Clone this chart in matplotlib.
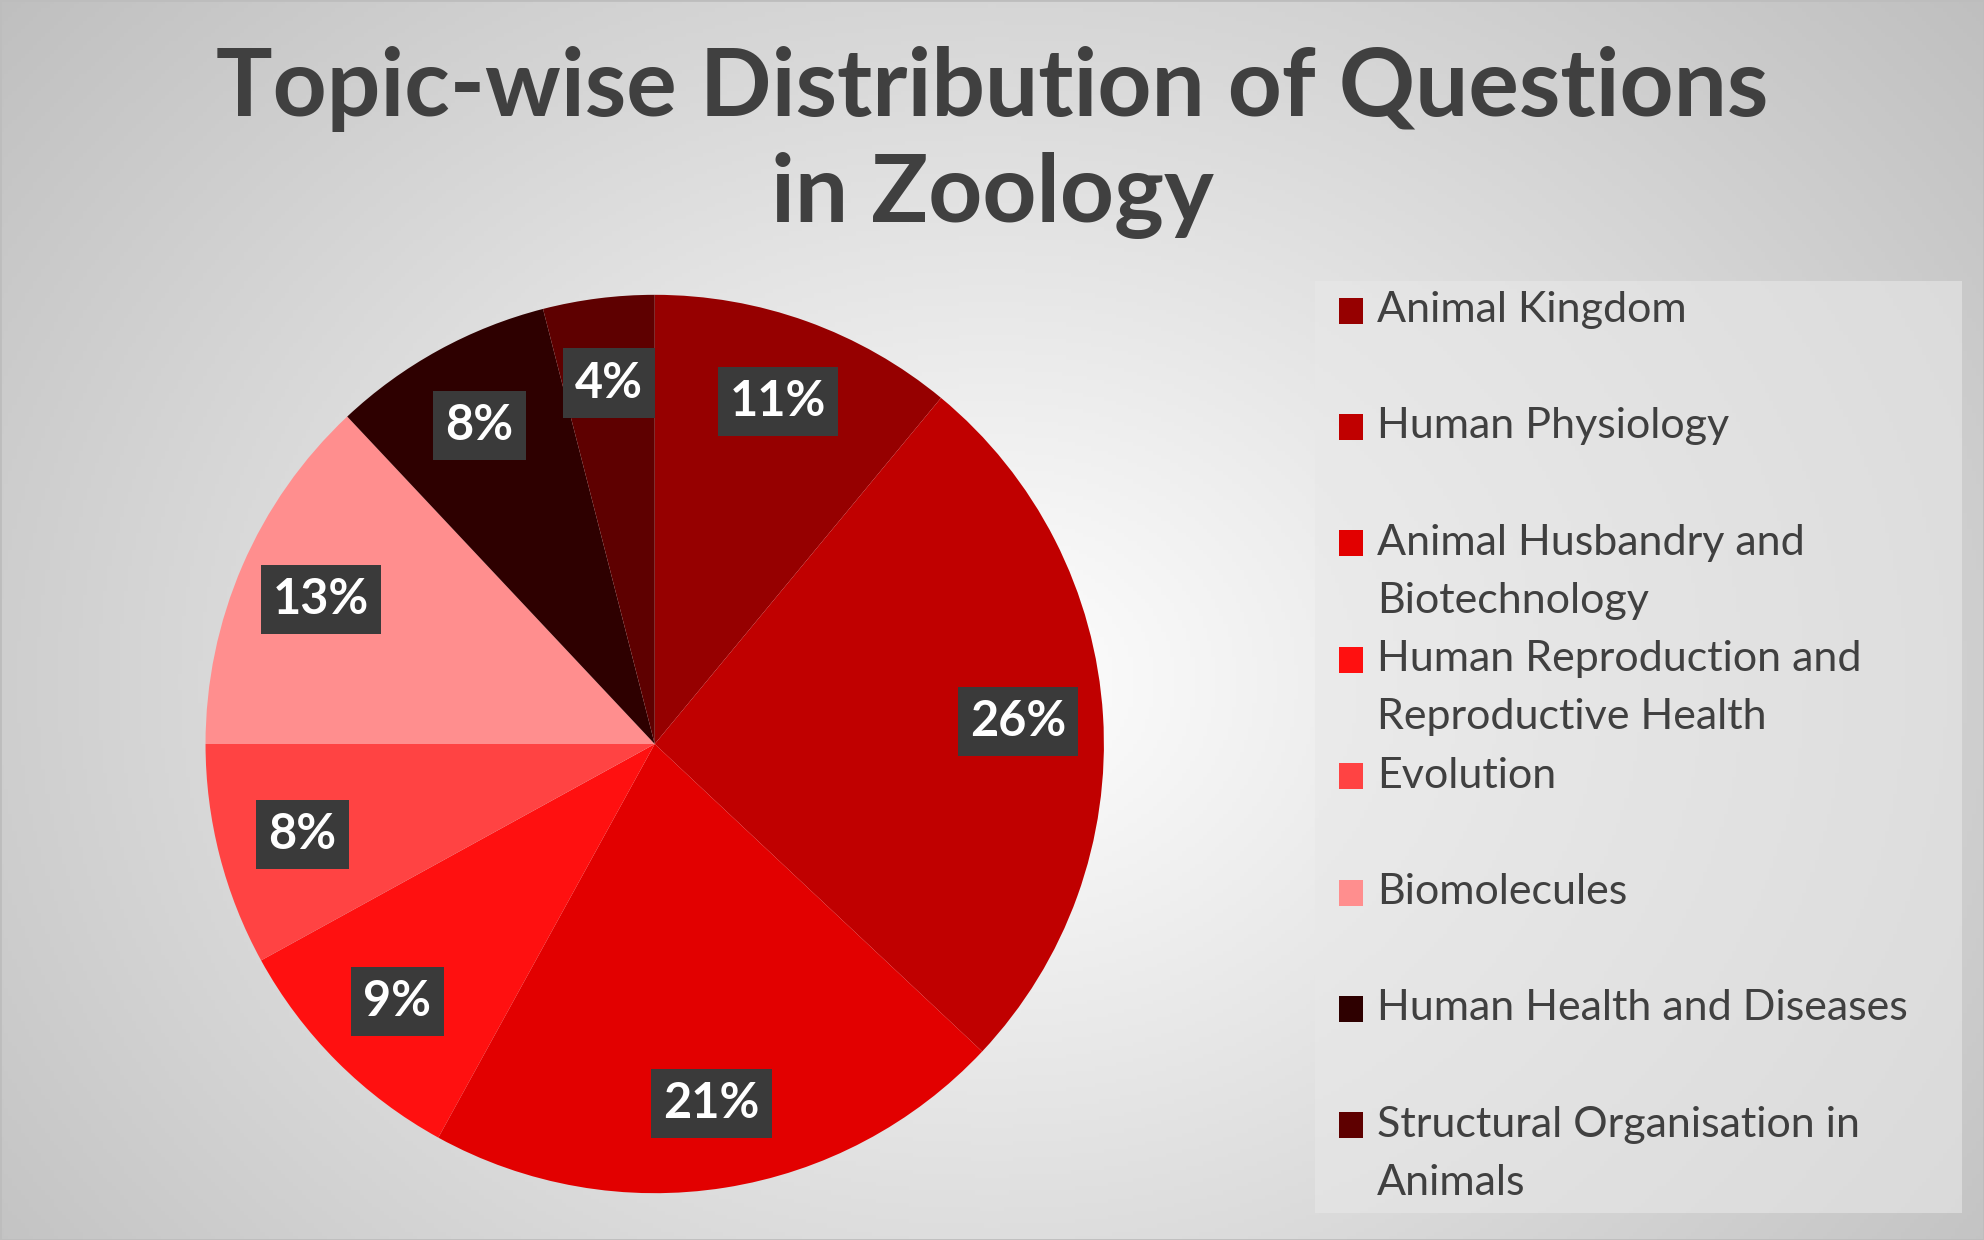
import matplotlib
matplotlib.use("Agg")
import matplotlib.pyplot as plt
import numpy as np

topics = [
    "Animal Kingdom",
    "Human Physiology",
    "Animal Husbandry and\nBiotechnology",
    "Human Reproduction and\nReproductive Health",
    "Evolution",
    "Biomolecules",
    "Human Health and Diseases",
    "Structural Organisation in\nAnimals",
]
shares = [11, 26, 21, 9, 8, 13, 8, 4]
colors = ["#960000", "#C00000", "#E20000", "#FF1010", "#FF4343",
          "#FF8E8E", "#2E0000", "#5E0000"]

W, H = 1984, 1240
fig = plt.figure(figsize=(W / 100, H / 100), dpi=100)

# radial gray background
bg = fig.add_axes([0, 0, 1, 1])
yy, xx = np.mgrid[0:1:300j, 0:1:480j]
d = np.sqrt(((xx - 0.5) * 1.3) ** 2 + (yy - 0.55) ** 2)
g = 1.0 - 0.25 * np.clip(d / 0.85, 0, 1)
bg.imshow(np.dstack([g, g, g]), extent=[0, 1, 0, 1], aspect="auto", zorder=0)
bg.add_patch(plt.Rectangle((0.663, 0.022), 0.326, 0.751, fc="#e8e8e8",
                           ec="none", alpha=0.6))
bg.add_patch(plt.Rectangle((0, 0), 1, 1, fill=False, ec="#bdbdbd", lw=2))
bg.set_xlim(0, 1)
bg.set_ylim(0, 1)
bg.axis("off")

fig.text(0.5, 0.928, "Topic-wise Distribution of Questions", ha="center",
         va="center", fontsize=68, fontweight="bold", color="#404040",
         family="Lato")
fig.text(0.5, 0.842, "in Zoology", ha="center", va="center", fontsize=68,
         fontweight="bold", color="#404040", family="Lato")

cx, cy = 0.330, 0.40
rw, rh = 355 / 1568, 355 / 980
ax = fig.add_axes([cx - rw, cy - rh, 2 * rw, 2 * rh])
wedges, texts, autotexts = ax.pie(
    shares, colors=colors, startangle=90, counterclock=False, radius=1,
    autopct="%d%%", pctdistance=0.81,
    textprops=dict(color="white", fontsize=35, fontweight="bold", family="Lato"),
)
for t in autotexts:
    t.set_bbox(dict(boxstyle="square,pad=0.25", fc="#3a3a3a", ec="none"))
ax.set_xlim(-1, 1)
ax.set_ylim(-1, 1)
ax.axis("off")

# legend entries, evenly spaced
for i, (name, c) in enumerate(zip(topics, colors)):
    y = 1 - (245 + 92 * i) / 980
    bg.add_patch(plt.Rectangle((0.675, y - 0.011), 0.012, 0.021, fc=c, ec="none"))
    lines = name.split("\n")
    for k, line in enumerate(lines):
        fig.text(0.694, y - k * 46 / 980, line, ha="left", va="center",
                 fontsize=31, color="#404040", family="Lato")

fig.savefig("out.png", dpi=100)
